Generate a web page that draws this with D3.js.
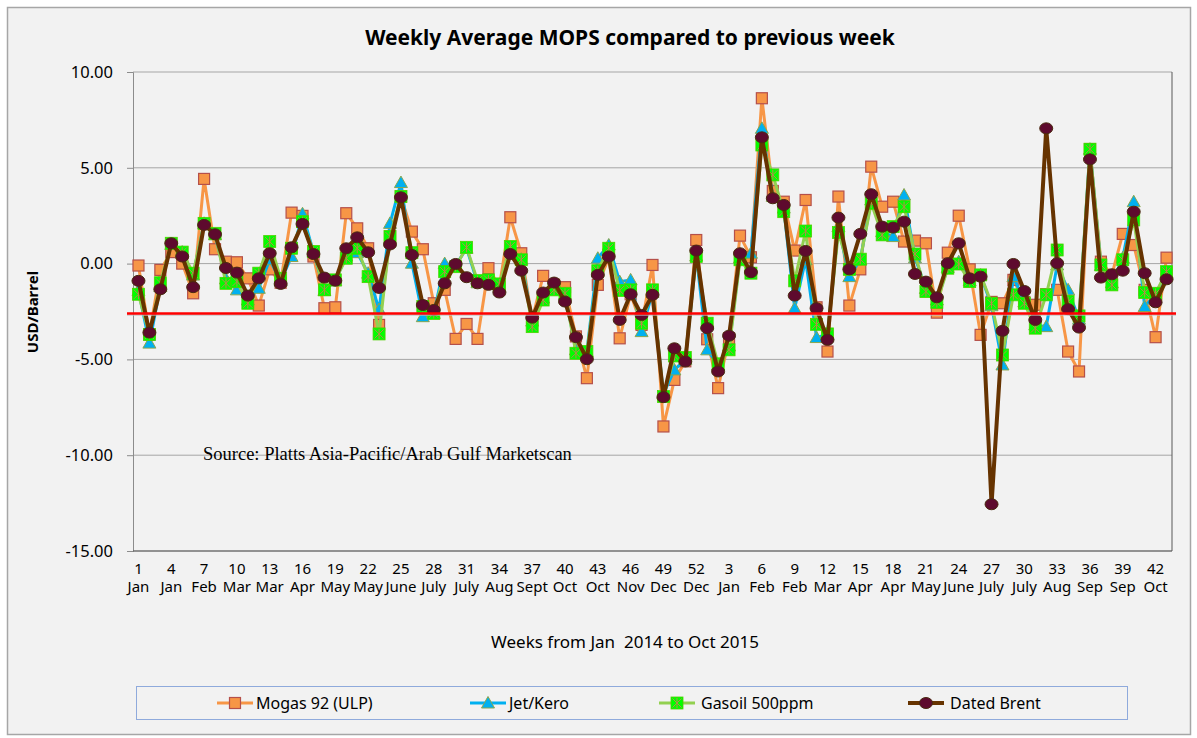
<!DOCTYPE html>
<html><head><meta charset="utf-8">
<script src="https://cdn.jsdelivr.net/npm/d3@7"></script>
<style>body{margin:0;background:#fff;} svg{display:block}</style>
</head><body>
<svg id="chart" width="1197" height="738"></svg>
<script>
// ---------- data ----------
const weeks = ["1","2","3","4","5","6","7","8","9","10","11","12","13","14","15","16","17","18","19","20","21","22","23","24","25","26","27","28","29","30","31","32","33","34","35","36","37","38","39","40","41","42","43","44","45","46","47","48","49","50","51","52",
               "1","2","3","4","5","6","7","8","9","10","11","12","13","14","15","16","17","18","19","20","21","22","23","24","25","26","27","28","29","30","31","32","33","34","35","36","37","38","39","40","41","42","43"];
const tickMonths = ["Jan","Jan","Feb","Mar","Mar","Apr","May","May","June","July","July","Aug","Sept","Oct","Oct","Nov","Dec","Dec","Jan","Feb","Feb","Mar","Apr","Apr","May","June","July","July","Aug","Sep","Sep","Oct"];
const yTicks = [10, 5, 0, -5, -10, -15];
const referenceLevel = -2.6;

const mogas = [-0.10,-3.70,-0.33,0.60,0.00,-1.55,4.42,0.75,0.10,0.07,-0.77,-2.19,-0.30,-1.00,2.66,2.49,0.37,-2.33,-2.28,2.63,1.84,0.80,-3.20,1.40,3.50,1.67,0.75,-2.07,-1.37,-3.93,-3.15,-3.93,-0.24,-1.20,2.42,0.54,-2.90,-0.64,-1.10,-1.23,-3.80,-5.98,-1.11,0.30,-3.90,-1.60,-3.20,-0.07,-8.50,-6.07,-5.10,1.23,-3.95,-6.50,-3.90,1.46,0.33,8.63,3.79,3.23,0.68,3.32,-2.28,-4.59,3.50,-2.19,-0.30,5.06,2.97,3.23,1.15,1.20,1.06,-2.56,0.57,2.50,-0.30,-3.72,-2.00,-2.07,-0.85,-2.00,-2.15,-1.60,-1.37,-4.59,-5.63,5.97,0.10,-0.59,1.55,0.97,-1.37,-3.84,0.31];
const jet = [-1.40,-4.15,-1.20,1.00,0.60,-0.60,2.10,1.50,-0.80,-1.37,-1.90,-1.29,0.20,-0.90,0.37,2.60,0.60,-1.40,-0.90,0.40,0.57,-0.50,-2.40,2.10,4.23,0.02,-2.77,-2.60,0.00,-0.10,0.80,-1.00,-0.90,-1.20,0.70,0.23,-3.00,-1.80,-1.20,-1.60,-4.50,-4.60,0.28,0.97,-0.94,-0.85,-3.55,-1.50,-6.80,-5.55,-5.00,0.40,-4.50,-5.29,-4.30,0.30,0.54,7.06,3.50,2.90,-2.33,0.20,-3.86,-3.70,1.93,-0.68,0.20,3.32,1.67,1.41,3.58,0.30,-1.30,-1.90,-0.20,0.10,-0.90,-0.60,-2.20,-5.29,-0.68,-2.00,-3.20,-3.29,-0.07,-1.37,-2.90,5.97,-0.10,-1.00,0.30,3.23,-2.24,-1.60,-0.50];
const gasoil = [-1.60,-3.70,-1.00,1.06,0.60,-0.50,2.10,1.58,-1.03,-0.94,-2.07,-0.50,1.15,-0.77,0.80,2.19,0.63,-1.37,-0.85,0.28,0.80,-0.68,-3.67,1.41,3.50,0.57,-2.24,-2.60,-0.42,-0.16,0.85,-0.89,-0.85,-1.06,0.89,0.20,-3.29,-1.90,-1.37,-1.55,-4.68,-4.59,-0.37,0.80,-1.40,-1.37,-3.11,-1.37,-6.94,-4.82,-4.90,0.37,-3.11,-5.23,-4.50,0.20,-0.50,6.19,4.63,2.71,-0.90,1.70,-3.17,-3.67,1.62,-0.30,0.23,3.15,1.50,1.93,2.97,0.50,-1.46,-2.03,-0.24,-0.02,-0.94,-0.59,-2.07,-4.77,-1.63,-2.07,-3.37,-1.63,0.71,-1.98,-2.73,5.97,-0.07,-1.11,0.20,2.28,-1.51,-1.55,-0.42];
const brent = [-0.90,-3.60,-1.34,1.06,0.37,-1.23,2.02,1.53,-0.23,-0.47,-1.67,-0.77,0.54,-1.06,0.85,2.07,0.50,-0.73,-0.89,0.80,1.37,0.59,-1.27,1.00,3.46,0.45,-2.16,-2.42,-1.03,-0.02,-0.71,-1.03,-1.11,-1.51,0.50,-0.37,-2.82,-1.51,-0.99,-1.98,-3.84,-4.99,-0.59,0.37,-2.94,-1.60,-2.68,-1.63,-6.97,-4.42,-5.11,0.68,-3.37,-5.63,-3.76,0.54,-0.45,6.59,3.41,3.06,-1.67,0.66,-2.33,-3.98,2.40,-0.30,1.55,3.62,1.93,1.88,2.19,-0.54,-0.94,-1.76,0.02,1.06,-0.77,-0.68,-12.56,-3.51,-0.02,-1.43,-2.94,7.06,0.02,-2.38,-3.34,5.44,-0.73,-0.56,-0.37,2.71,-0.50,-2.02,-0.82];

// ---------- layout ----------
const svg = d3.select("#chart");
const FONT = "'Noto Sans', 'Open Sans', sans-serif";
const plot = {l:133, r:1172, t:72, b:551};

svg.append("rect").attr("x",0).attr("y",0).attr("width",1197).attr("height",738).attr("fill","#ffffff");
svg.append("rect").attr("x",7.5).attr("y",7.5).attr("width",1183).attr("height",727)
  .attr("fill","#f2f2f2").attr("stroke","#a6a6a6").attr("stroke-width",1.5);

const x = d3.scaleBand().domain(d3.range(weeks.length)).range([plot.l, plot.r]);
const y = d3.scaleLinear().domain([-15, 10]).range([plot.b, plot.t]);
const cx = i => x(i) + x.bandwidth()/2;

// gridlines
svg.append("g").selectAll("line").data(yTicks).join("line")
  .attr("x1", plot.l).attr("x2", plot.r)
  .attr("y1", d => y(d)).attr("y2", d => y(d))
  .attr("stroke", "#a6a6a6").attr("stroke-width", 1);

// y axis
const yAxis = svg.append("g").attr("transform", `translate(${plot.l},0)`)
  .call(d3.axisLeft(y).tickValues(yTicks).tickFormat(d => d.toFixed(2)).tickSize(6).tickPadding(14));
yAxis.select(".domain").attr("stroke", "#8c8c8c");
yAxis.selectAll(".tick line").attr("stroke", "#8c8c8c");
yAxis.selectAll("text").attr("font-family", FONT).attr("font-size", "16.5px").attr("fill", "#000");

// right & bottom border
svg.append("line").attr("x1", plot.r).attr("x2", plot.r).attr("y1", plot.t).attr("y2", plot.b)
  .attr("stroke", "#595959").attr("stroke-width", 1);
svg.append("line").attr("x1", plot.l).attr("x2", plot.r).attr("y1", plot.b).attr("y2", plot.b)
  .attr("stroke", "#595959").attr("stroke-width", 1);

// x axis labels
const tickIdx = d3.range(0, weeks.length, 3);
const xAxis = svg.append("g").attr("transform", `translate(0,${plot.b})`)
  .call(d3.axisBottom(x).tickValues(tickIdx).tickFormat(i => weeks[i]).tickSize(0).tickPadding(12));
xAxis.select(".domain").remove();
xAxis.selectAll("text").attr("font-family", FONT).attr("font-size", "15px").attr("fill", "#000")
  .each(function(i, k) {
    d3.select(this).append("tspan").attr("x", 0).attr("dy", "1.2em").text(tickMonths[k]);
  });

// source text
svg.append("text").attr("x", 203).attr("y", 460)
  .attr("font-family", "'Liberation Serif', 'Times New Roman', serif").attr("font-size", "18.5px")
  .attr("fill", "#000").text("Source: Platts Asia-Pacific/Arab Gulf Marketscan");

// series
const line = d3.line().x((d, i) => cx(i)).y(d => y(d));
const series = [
  {name: "Mogas 92 (ULP)", values: mogas, color: "#f79646", width: 3, marker: "square"},
  {name: "Jet/Kero", values: jet, color: "#00b0f0", width: 3, marker: "triangle"},
  {name: "Gasoil 500ppm", values: gasoil, color: "#92d050", width: 3, marker: "star"},
  {name: "Dated Brent", values: brent, color: "#663300", width: 4, marker: "circle"}
];

function drawMarker(g, type, px, py) {
  if (type === "square") {
    g.append("rect").attr("x", px-5.5).attr("y", py-5.5).attr("width", 11).attr("height", 11)
      .attr("fill", "#f79646").attr("stroke", "#b5504a").attr("stroke-width", 1.2);
  } else if (type === "triangle") {
    g.append("path").attr("d", `M${px},${py-6.5}L${px+6.5},${py+5}L${px-6.5},${py+5}Z`)
      .attr("fill", "#00b0f0").attr("stroke", "#8aa64e").attr("stroke-width", 1);
  } else if (type === "star") {
    g.append("rect").attr("x", px-6).attr("y", py-6).attr("width", 12).attr("height", 12)
      .attr("fill", "#00ff00").attr("stroke", "#4fd000").attr("stroke-width", 0.8);
    g.append("path").attr("d", `M${px-4.5},${py-4.5}L${px+4.5},${py+4.5}M${px+4.5},${py-4.5}L${px-4.5},${py+4.5}M${px},${py-5}L${px},${py+5}`)
      .attr("stroke", "#b88a4a").attr("stroke-width", 1).attr("fill", "none");
  } else {
    g.append("ellipse").attr("cx", px).attr("cy", py).attr("rx", 6.5).attr("ry", 5.5)
      .attr("fill", "#5e0a2e").attr("stroke", "#4a2a10").attr("stroke-width", 1);
  }
}

series.forEach(s => {
  const g = svg.append("g");
  g.append("path").datum(s.values).attr("d", line)
    .attr("fill", "none").attr("stroke", s.color).attr("stroke-width", s.width)
    .attr("stroke-linejoin", "round");
  s.values.forEach((v, i) => drawMarker(g, s.marker, cx(i), y(v)));
});

// reference red line
svg.append("line").attr("x1", plot.l - 6).attr("x2", plot.r + 4)
  .attr("y1", y(referenceLevel) + 1).attr("y2", y(referenceLevel) + 1)
  .attr("stroke", "#bfbfbf").attr("stroke-width", 3).attr("opacity", 0.6);
svg.append("line").attr("x1", plot.l - 6).attr("x2", plot.r + 4)
  .attr("y1", y(referenceLevel)).attr("y2", y(referenceLevel))
  .attr("stroke", "#ff0000").attr("stroke-width", 2.5);

// title
svg.append("text").attr("x", 630).attr("y", 45).attr("text-anchor", "middle")
  .attr("font-family", FONT).attr("font-size", "21px").attr("font-weight", "bold")
  .text("Weekly Average MOPS compared to previous week");

// y axis title
svg.append("text").attr("transform", "translate(38,312) rotate(-90)").attr("text-anchor", "middle")
  .attr("font-family", FONT).attr("font-size", "15px").attr("font-weight", "bold")
  .text("USD/Barrel");

// x axis title
svg.append("text").attr("x", 625).attr("y", 648).attr("text-anchor", "middle")
  .attr("font-family", FONT).attr("font-size", "17px")
  .text("Weeks from Jan  2014 to Oct 2015").attr("xml:space", "preserve").style("white-space", "pre");

// legend
svg.append("rect").attr("x", 136.5).attr("y", 686.5).attr("width", 991).attr("height", 33)
  .attr("fill", "#f2f2f2").attr("stroke", "#8faadc").attr("stroke-width", 1);
const legendPos = [{mx: 235, tx: 256}, {mx: 488, tx: 509}, {mx: 677, tx: 701}, {mx: 926, tx: 950}];
series.forEach((s, k) => {
  const g = svg.append("g");
  const p = legendPos[k];
  g.append("line").attr("x1", p.mx - 18).attr("x2", p.mx + 18).attr("y1", 703).attr("y2", 703)
    .attr("stroke", s.color).attr("stroke-width", s.width);
  drawMarker(g, s.marker, p.mx, 703);
  g.append("text").attr("x", p.tx).attr("y", 709).attr("font-family", FONT).attr("font-size", "16px")
    .text(s.name);
});
</script>
</body></html>
